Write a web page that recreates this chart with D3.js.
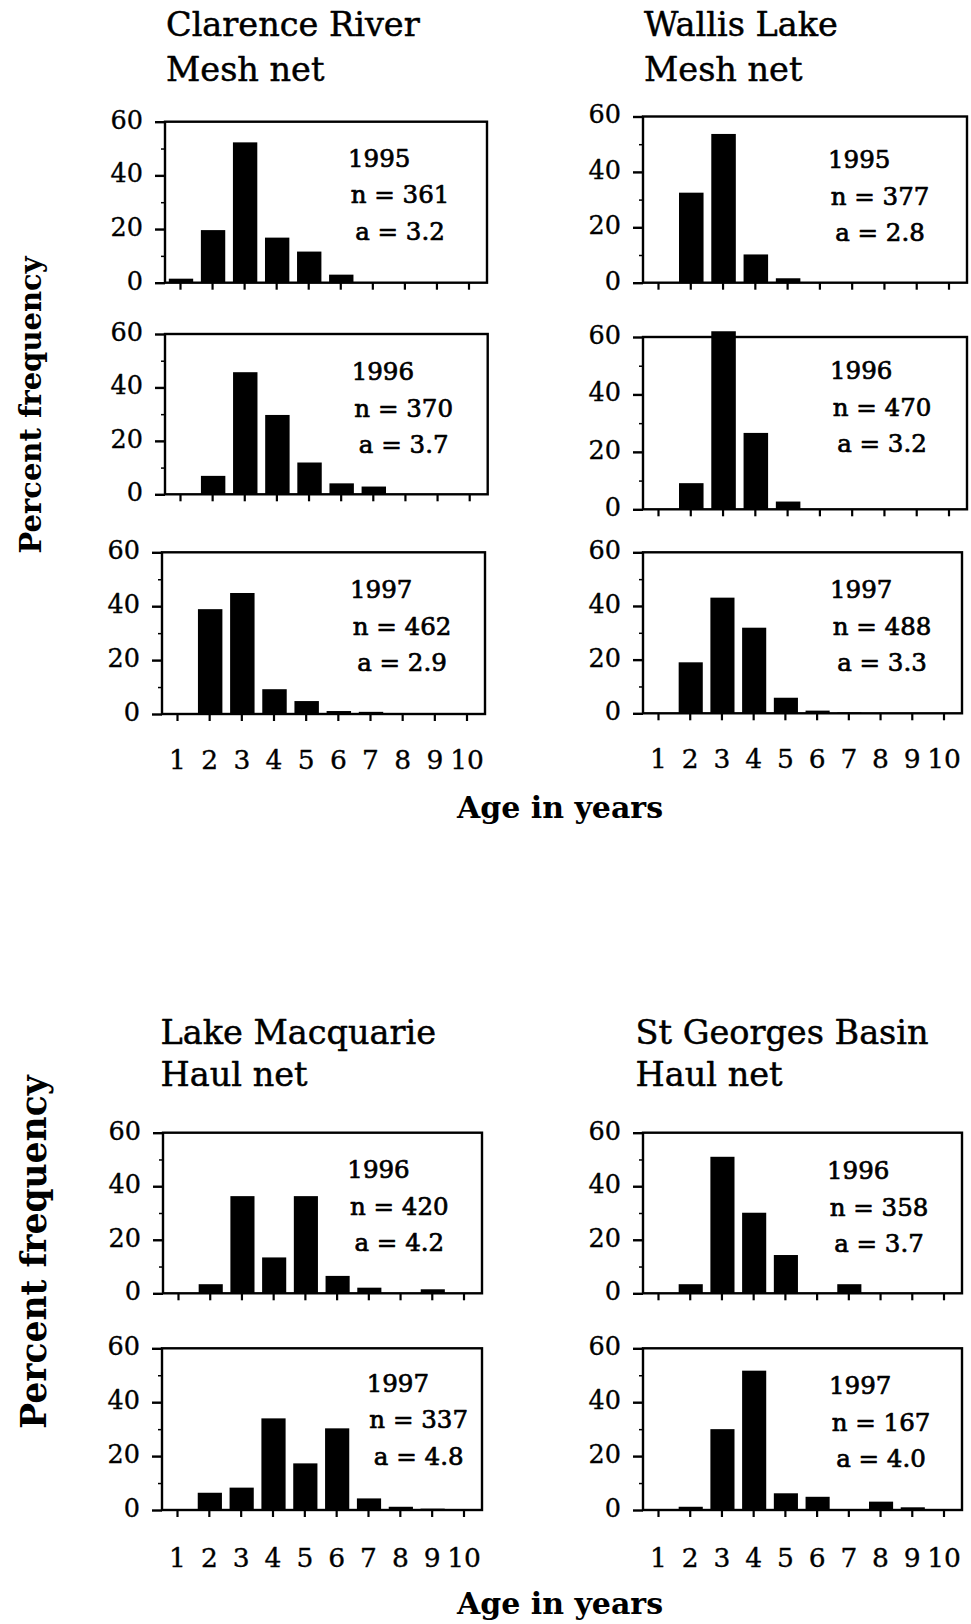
<!DOCTYPE html>
<html><head><meta charset="utf-8">
<script src="https://cdn.jsdelivr.net/npm/d3@7"></script>
<style>html,body{margin:0;padding:0;background:#fff}</style>
</head><body>
<svg id="c" width="971" height="1624"></svg>
<script>
// ---------- data ----------
const ages = ["1","2","3","4","5","6","7","8","9","10"];
const yTickValues = [0, 20, 40, 60];
const yMinorTicks = [10, 30, 50];

const clarence1995 = [1.5, 19.6, 52.3, 16.8, 11.6, 3.0, 0, 0, 0, 0];
const clarence1996 = [0, 6.9, 45.7, 29.7, 11.9, 4.1, 2.9, 0, 0, 0];
const clarence1997 = [0, 38.9, 44.9, 9.2, 4.8, 1.1, 0.8, 0, 0, 0];
const wallis1995   = [0, 32.5, 53.7, 10.2, 1.6, 0, 0, 0, 0, 0];
const wallis1996   = [0, 9.1, 62.0, 26.6, 2.7, 0, 0, 0, 0, 0];
const wallis1997   = [0, 19.0, 43.1, 31.9, 5.8, 1.0, 0.3, 0, 0, 0];
const macquarie1996 = [0, 3.4, 36.3, 13.4, 36.3, 6.5, 2.1, 0, 1.5, 0];
const macquarie1997 = [0, 6.4, 8.3, 34.0, 17.3, 30.3, 4.3, 1.2, 0.5, 0];
const stgeorges1996 = [0, 3.4, 51.0, 30.1, 14.3, 0, 3.4, 0, 0, 0];
const stgeorges1997 = [0, 1.2, 30.0, 51.7, 6.2, 4.9, 0, 3.1, 1.0, 0];

const panelSeries = [clarence1995, clarence1996, clarence1997,
                     wallis1995, wallis1996, wallis1997,
                     macquarie1996, macquarie1997,
                     stgeorges1996, stgeorges1997];
const panelYears = ["1995","1996","1997","1995","1996","1997","1996","1997","1996","1997"];
const panelN = ["361","370","462","377","470","488","420","337","358","167"];
const panelA = ["3.2","3.7","2.9","2.8","3.2","3.3","4.2","4.8","3.7","4.0"];

const siteNames = ["Clarence River", "Wallis Lake", "Lake Macquarie", "St Georges Basin"];
const gearNames = ["Mesh net", "Mesh net", "Haul net", "Haul net"];
const xAxisTitle = "Age in years";
const yAxisTitle = "Percent frequency";

// ---------- layout ----------
const layout = [
  {x0:165, x1:487,   yTop:121.7, yBot:282.7, tx:348,   ty:166.7, labels:false},
  {x0:165, x1:487.7, yTop:334,   yBot:494.3, tx:351.7, ty:380,   labels:false},
  {x0:162, x1:485,   yTop:552.3, yBot:714,   tx:350,   ty:598.3, labels:true, lp:29},
  {x0:643, x1:967,   yTop:116.5, yBot:282.7, tx:828,   ty:168.3, labels:false},
  {x0:643, x1:967,   yTop:337,   yBot:509.3, tx:830,   ty:379.3, labels:false},
  {x0:643, x1:962,   yTop:552.3, yBot:713.3, tx:830,   ty:598.3, labels:true, lp:29},
  {x0:163, x1:482,   yTop:1132.7,yBot:1293.3,tx:347.3, ty:1178.3,labels:false},
  {x0:162, x1:482,   yTop:1348.3,yBot:1510,  tx:366.7, ty:1391.7,labels:true, lp:31},
  {x0:643, x1:962,   yTop:1132.7,yBot:1293.3,tx:827,   ty:1179.3,labels:false},
  {x0:643, x1:962,   yTop:1348.3,yBot:1510,  tx:829,   ty:1394,  labels:true, lp:31}
];
const titleLayout = [
  {x:166,   y1:36,     y2:80.7},
  {x:644,   y1:36,     y2:80.7},
  {x:160.5, y1:1044,   y2:1085.5},
  {x:635.6, y1:1044,   y2:1085.5}
];
const FONT = "DejaVu Serif";

const svg = d3.select("#c");
svg.append("rect").attr("width", 971).attr("height", 1624).attr("fill", "#fff");

function heavy(sel, w) {
  sel.attr("stroke", "#000").attr("stroke-width", w).attr("stroke-linejoin", "round");
}

panelSeries.forEach((vals, i) => {
  const L = layout[i];
  const g = svg.append("g");
  const x = d3.scalePoint().domain(ages).range([L.x0 + 15, L.x1 - 18.5]);
  const y = d3.scaleLinear().domain([0, 60]).range([L.yBot, L.yTop]);
  const bw = x.step() * 0.76;

  // bars
  g.selectAll("rect.bar").data(vals.map((v, k) => ({age: ages[k], v})).filter(d => d.v > 0))
    .join("rect").attr("class", "bar")
    .attr("x", d => x(d.age) - bw / 2 + 1)
    .attr("width", bw)
    .attr("y", d => y(d.v))
    .attr("height", d => y(0) - y(d.v))
    .attr("fill", "#000");

  // frame
  g.append("rect")
    .attr("x", L.x0).attr("y", L.yTop)
    .attr("width", L.x1 - L.x0).attr("height", L.yBot - L.yTop)
    .attr("fill", "none").attr("stroke", "#000").attr("stroke-width", 2.4);

  // y axis
  const ya = g.append("g").attr("transform", `translate(${L.x0},0)`)
    .call(d3.axisLeft(y).tickValues(yTickValues).tickSize(10).tickPadding(12).tickFormat(d3.format("d")));
  ya.select(".domain").remove();
  ya.selectAll(".tick line").attr("stroke-width", 2.4);
  ya.selectAll("text").attr("font-family", FONT).attr("font-size", 25.5).attr("fill", "#000").attr("dy", "0.25em");
  heavy(ya.selectAll("text"), 0.35);
  const ym = g.append("g").attr("transform", `translate(${L.x0},0)`)
    .call(d3.axisLeft(y).tickValues(yMinorTicks).tickSize(4).tickFormat(""));
  ym.select(".domain").remove();
  ym.selectAll(".tick line").attr("stroke-width", 1.5);

  // x axis
  const xa = g.append("g").attr("transform", `translate(0,${L.yBot})`)
    .call(d3.axisBottom(x).tickSize(7).tickPadding(L.lp || 24).tickFormat(L.labels ? (d => d) : () => ""));
  xa.select(".domain").remove();
  xa.selectAll(".tick line").attr("stroke-width", 2.2);
  xa.selectAll("text").attr("font-family", FONT).attr("font-size", 26.5).attr("fill", "#000");
  heavy(xa.selectAll("text"), 0.35);

  // annotation
  const ann = g.append("g").attr("font-family", FONT).attr("font-size", 24.5).attr("fill", "#000");
  heavy(ann, 0.7);
  ann.append("text").attr("x", L.tx).attr("y", L.ty).text(panelYears[i]);
  ann.append("text").attr("x", L.tx + 52).attr("y", L.ty + 36.5).attr("text-anchor", "middle").text("n = " + panelN[i]);
  ann.append("text").attr("x", L.tx + 52).attr("y", L.ty + 73).attr("text-anchor", "middle").text("a = " + panelA[i]);
});

// titles
siteNames.forEach((s, i) => {
  const T = titleLayout[i];
  const t = svg.append("g").attr("font-family", FONT).attr("font-size", 33.5).attr("fill", "#000");
  heavy(t, 0.5);
  t.append("text").attr("x", T.x).attr("y", T.y1).text(s);
  t.append("text").attr("x", T.x).attr("y", T.y2).text(gearNames[i]);
});

// axis titles
[{cx:560, y:818}, {cx:560, y:1614}].forEach(p => {
  svg.append("text").attr("x", p.cx).attr("y", p.y).attr("text-anchor", "middle")
    .attr("font-family", FONT).attr("font-weight", "bold").attr("font-size", 30).text(xAxisTitle);
});
[{x:41, cy:405, fs:29}, {x:46, cy:1252, fs:34.5}].forEach(p => {
  svg.append("text").attr("transform", `translate(${p.x},${p.cy}) rotate(-90)`).attr("text-anchor", "middle")
    .attr("font-family", FONT).attr("font-weight", "bold").attr("font-size", p.fs).text(yAxisTitle);
});
</script>
</body></html>
